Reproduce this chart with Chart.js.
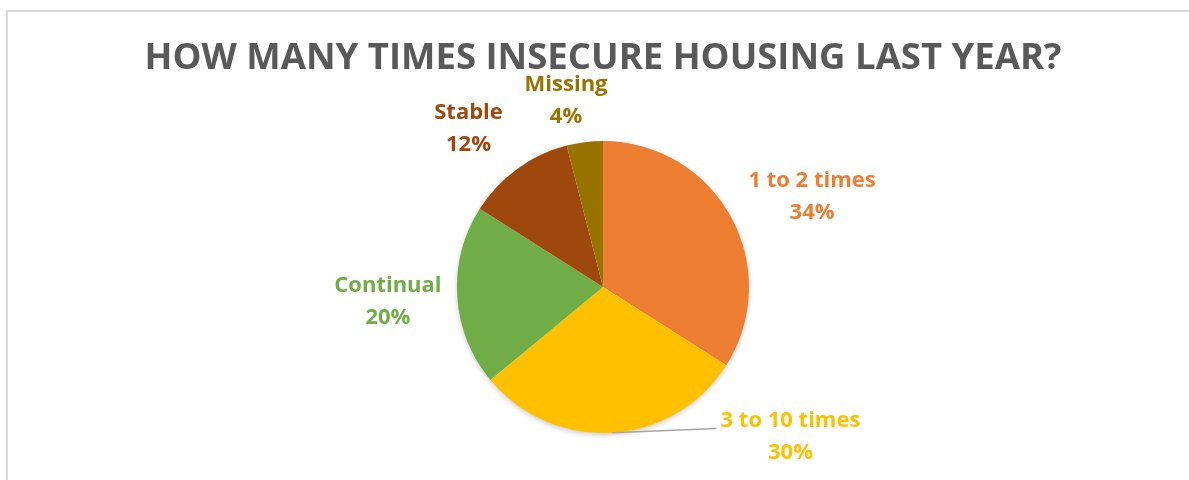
<!DOCTYPE html>
<html>
<head>
<meta charset="utf-8">
<script src="https://cdn.jsdelivr.net/npm/chart.js@4.4.0/dist/chart.umd.min.js"></script>
<style>
  html, body { margin: 0; padding: 0; background: #fff; overflow: hidden; }
  #wrap { position: relative; width: 1189px; height: 480px; }
  #frame {
    position: absolute; left: 6px; top: 10px; width: 1200px; height: 500px;
    border-left: 2px solid #d9d9d9; border-top: 2px solid #d9d9d9;
  }
  canvas { position: absolute; left: 0; top: 0; }
</style>
</head>
<body>
<div id="wrap">
  <div id="frame"></div>
  <canvas id="chart" width="1189" height="480"></canvas>
</div>
<script>
var categories = ["1 to 2 times", "3 to 10 times", "Continual", "Stable", "Missing"];
var shares = [34, 30, 20, 12, 4];
var colors = ["#ED7D31", "#FFC000", "#70AD47", "#9E480E", "#997300"];
var titleText = "HOW MANY TIMES INSECURE HOUSING LAST YEAR?";

// where each label block sits, in pie radii from the centre (excel "best fit")
var labelPos = [[1.432, -0.616], [1.284, 1.024], [-1.473, 0.103], [-0.921, -1.082], [-0.253, -1.274]];

var FONT = "'Open Sans', 'DejaVu Sans', sans-serif";

var shadowPlugin = {
  id: "pieShadow",
  beforeDatasetsDraw: function (chart) {
    var arc = chart.getDatasetMeta(0).data[0];
    var ctx = chart.ctx;
    ctx.save();
    ctx.shadowColor = "rgba(0,0,0,0.28)";
    ctx.shadowBlur = 6;
    ctx.shadowOffsetY = 2;
    ctx.fillStyle = "#fff";
    ctx.beginPath();
    ctx.arc(arc.x, arc.y, arc.outerRadius - 1, 0, Math.PI * 2);
    ctx.fill();
    ctx.restore();
  }
};

var labelPlugin = {
  id: "outLabels",
  afterDatasetsDraw: function (chart) {
    var ctx = chart.ctx;
    var meta = chart.getDatasetMeta(0);
    var total = shares.reduce(function (a, b) { return a + b; }, 0);
    ctx.save();
    ctx.font = "bold 22px " + FONT;
    ctx.textAlign = "center";
    ctx.textBaseline = "middle";
    meta.data.forEach(function (arc, i) {
      var r = arc.outerRadius;
      var x = arc.x + labelPos[i][0] * r;
      var y = arc.y + labelPos[i][1] * r;
      var pct = Math.round(shares[i] / total * 100) + "%";
      ctx.fillStyle = colors[i];
      ctx.fillText(categories[i], x, y - 16);
      ctx.fillText(pct, x, y + 16);

      // leader line for the label pushed off its slice
      if (i == 1) {
        var mid = (arc.startAngle + arc.endAngle) / 2;
        var sx = arc.x + Math.cos(mid) * r;
        var sy = arc.y + Math.sin(mid) * r;
        var w = ctx.measureText(categories[i]).width;
        ctx.strokeStyle = "#a6a6a6";
        ctx.lineWidth = 1.5;
        ctx.beginPath();
        ctx.moveTo(sx, sy);
        ctx.lineTo(x - w / 2 - 4, y - 8);
        ctx.stroke();
      }
    });
    ctx.restore();
  }
};

new Chart(document.getElementById("chart"), {
  type: "pie",
  data: {
    labels: categories,
    datasets: [{
      data: shares,
      backgroundColor: colors,
      borderWidth: 0,
      hoverOffset: 0
    }]
  },
  options: {
    responsive: false,
    animation: false,
    events: [],
    layout: { padding: { top: 0, bottom: 47, left: 17, right: 0 } },
    plugins: {
      legend: { display: false },
      tooltip: { enabled: false },
      title: {
        display: true,
        text: titleText,
        color: "#595959",
        font: { family: FONT, size: 36.5, weight: "bold", lineHeight: 1.2 },
        padding: { top: 36.5, bottom: 60.7 }
      }
    }
  },
  plugins: [shadowPlugin, labelPlugin]
});
</script>
</body>
</html>
